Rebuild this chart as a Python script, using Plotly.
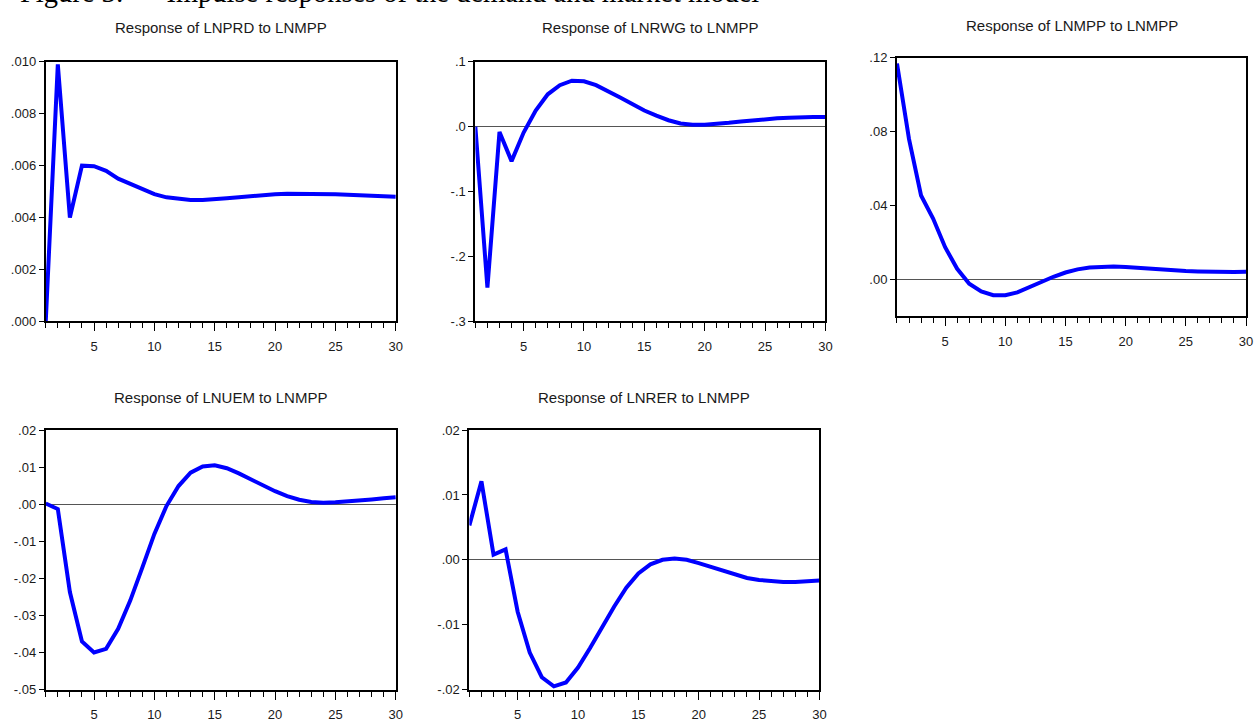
import plotly.graph_objects as go

periods = list(range(1, 31))

lnprd = [0.0000, 0.0099, 0.0040, 0.0060, 0.00598, 0.0058, 0.0055, 0.0053, 0.0051, 0.0049,
         0.00478, 0.00472, 0.00468, 0.00468, 0.00470, 0.00474, 0.00478, 0.00483, 0.00487, 0.00490,
         0.00492, 0.00492, 0.00492, 0.00491, 0.00490, 0.00488, 0.00486, 0.00484, 0.00482, 0.00480]

lnrwg = [0.0, -0.248, -0.008, -0.053, -0.009, 0.025, 0.050, 0.064, 0.071, 0.070,
         0.064, 0.055, 0.045, 0.035, 0.025, 0.017, 0.010, 0.005, 0.003, 0.003,
         0.004, 0.006, 0.008, 0.010, 0.012, 0.013, 0.014, 0.015, 0.015, 0.015]

lnmpp = [0.117, 0.076, 0.0455, 0.033, 0.0175, 0.0058, -0.0023, -0.0065, -0.0085, -0.0085,
         -0.0070, -0.0042, -0.0012, 0.0015, 0.0038, 0.0055, 0.0065, 0.0070, 0.0070, 0.0068,
         0.0063, 0.0058, 0.0053, 0.0049, 0.0046, 0.0044, 0.0042, 0.0041, 0.0041, 0.0042]

lnuem = [0.0002, -0.0013, -0.0237, -0.037, -0.040, -0.039, -0.0336, -0.026, -0.0171, -0.008,
         -0.0005, 0.0049, 0.0085, 0.0102, 0.0105, 0.0097, 0.0083, 0.0067, 0.0050, 0.0035,
         0.0022, 0.0012, 0.0006, 0.0004, 0.0005, 0.0007, 0.0010, 0.0013, 0.0016, 0.0019]

lnrer = [0.0053, 0.0121, 0.0008, 0.0016, -0.0080, -0.0143, -0.0181, -0.0195, -0.0189, -0.0166,
         -0.0136, -0.0103, -0.0072, -0.0043, -0.0021, -0.0007, 0.0000, 0.0002, 0.0000, -0.0005,
         -0.0011, -0.0017, -0.0023, -0.0028, -0.0031, -0.0033, -0.0034, -0.0034, -0.0033, -0.0032]

titles = ["Response of LNPRD to LNMPP", "Response of LNRWG to LNMPP", "Response of LNMPP to LNMPP",
          "Response of LNUEM to LNMPP", "Response of LNRER to LNMPP"]
series = [lnprd, lnrwg, lnmpp, lnuem, lnrer]

y_ticks = [
    ([0.000, 0.002, 0.004, 0.006, 0.008, 0.010], [".000", ".002", ".004", ".006", ".008", ".010"]),
    ([-0.3, -0.2, -0.1, 0.0, 0.1], ["-.3", "-.2", "-.1", ".0", ".1"]),
    ([0.00, 0.04, 0.08, 0.12], [".00", ".04", ".08", ".12"]),
    ([-0.05, -0.04, -0.03, -0.02, -0.01, 0.00, 0.01, 0.02], ["-.05", "-.04", "-.03", "-.02", "-.01", ".00", ".01", ".02"]),
    ([-0.02, -0.01, 0.00, 0.01, 0.02], ["-.02", "-.01", ".00", ".01", ".02"]),
]
y_ranges = [[0.0, 0.010], [-0.3, 0.1], [-0.02, 0.12], [-0.05, 0.02], [-0.02, 0.02]]
x_tickvals = [5, 10, 15, 20, 25, 30]
x_ticktext = ["5", "10", "15", "20", "25", "30"]

W, H = 1260, 725
# plot boxes in pixels: (left, right, top, bottom)
boxes = [(46, 398, 56, 321), (478, 830, 56, 321), (902, 1253, 52, 316),
         (46, 398, 432, 697), (472, 824, 432, 697)]
title_gap = [35, 35, 33.5, 33.5, 33.5]

FONT = "Liberation Sans, Arial, sans-serif"

fig = go.Figure()
layout = dict(width=W, height=H, autosize=False, margin=dict(l=0, r=0, t=0, b=0),
              paper_bgcolor="white", plot_bgcolor="white", showlegend=False,
              font=dict(family=FONT, color="#1a1a1a", size=13))
annotations = []
for i, (b, s) in enumerate(zip(boxes, series)):
    n = i + 1
    xa = "x" if n == 1 else f"x{n}"
    ya = "y" if n == 1 else f"y{n}"
    fig.add_trace(go.Scatter(x=periods, y=s, mode="lines", xaxis=xa, yaxis=ya,
                             line=dict(color="#0000ff", width=4), hoverinfo="skip"))
    l, r, t, bt = b
    layout["xaxis" if n == 1 else f"xaxis{n}"] = dict(
        domain=[l / W, r / W], anchor=ya, range=[1, 30], tickvals=x_tickvals, ticktext=x_ticktext,
        ticks="outside", ticklen=8, tickwidth=1.2, tickcolor="black",
        minor=dict(dtick=1, tick0=0, ticks="outside", ticklen=5, tickwidth=1.2, tickcolor="black"),
        showline=True, linecolor="black", linewidth=2, mirror=True, showgrid=False, zeroline=False,
        tickfont=dict(family=FONT, size=13, color="#1a1a1a"), ticklabelstandoff=4, fixedrange=True)
    tv, tt = y_ticks[i]
    layout["yaxis" if n == 1 else f"yaxis{n}"] = dict(
        domain=[1 - bt / H, 1 - t / H], anchor=xa, range=y_ranges[i], tickvals=tv, ticktext=tt,
        ticks="outside", ticklen=5, tickwidth=1.2, tickcolor="black",
        showline=True, linecolor="black", linewidth=2, mirror=True, showgrid=False,
        zeroline=(i != 0), zerolinecolor="#555555", zerolinewidth=1.2,
        tickfont=dict(family=FONT, size=13, color="#1a1a1a"), fixedrange=True)
    annotations.append(dict(text=titles[i], xref="paper", yref="paper",
                            x=(l + r) / 2 / W, y=1 - (t - title_gap[i]) / H, xanchor="center", yanchor="middle",
                            showarrow=False, font=dict(family=FONT, size=15, color="#1a1a1a")))

annotations.append(dict(text="Figure 3:      Impulse responses of the demand and market model",
                        xref="paper", yref="paper", x=18 / W, y=1 - 3 / H,
                        xanchor="left", yanchor="bottom", showarrow=False,
                        font=dict(family="Liberation Serif, Times New Roman, serif", size=28.5, color="black")))
layout["annotations"] = annotations
fig.update_layout(**layout)
fig.write_html("out.html")
